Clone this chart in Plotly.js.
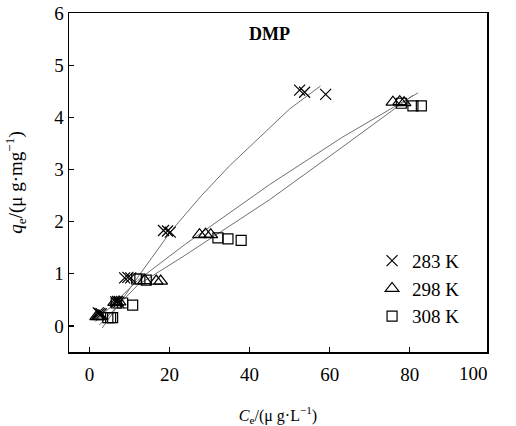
<!DOCTYPE html>
<html>
<head>
<meta charset="utf-8">
<script src="https://cdn.plot.ly/plotly-3.0.1.min.js"></script>
<style>html,body{margin:0;padding:0;background:#fff;}#chart{width:516px;height:426px;}</style>
</head>
<body>
<div id="chart"></div>
<script>
// Measured points
const seriesNames = ["283 K", "298 K", "308 K"];
const x283 = [52.5, 53.75, 59.0, 18.5, 19.5, 20.2, 8.8, 9.6, 10.3, 6.6, 7.0, 7.3, 2.2, 2.6, 3.0];
const y283 = [4.52, 4.48, 4.44, 1.83, 1.82, 1.80, 0.92, 0.93, 0.92, 0.46, 0.47, 0.45, 0.25, 0.24, 0.23];
const x298 = [75.8, 77.5, 78.6, 27.5, 29.0, 30.3, 13.8, 16.7, 17.8, 6.3, 6.8, 7.4, 1.8, 2.3, 2.6];
const y298 = [4.29, 4.30, 4.28, 1.75, 1.76, 1.75, 0.87, 0.86, 0.86, 0.45, 0.45, 0.46, 0.18, 0.19, 0.18];
const x308 = [77.9, 80.8, 82.9, 32.1, 34.6, 37.9, 11.8, 12.6, 14.2, 6.7, 8.3, 10.8, 4.6, 5.3, 5.8];
const y308 = [4.27, 4.22, 4.22, 1.69, 1.67, 1.64, 0.90, 0.90, 0.88, 0.44, 0.44, 0.40, 0.16, 0.16, 0.16];
// Fitted curves
const fx283 = [3.2, 12.5, 20.4, 28.0, 35.0, 43.3, 50.0, 57.7];
const fy283 = [-0.04, 0.98, 1.82, 2.50, 3.07, 3.68, 4.16, 4.60];
const fx298 = [1.5, 12.0, 24.0, 35.0, 45.0, 63.0, 82.1];
const fy298 = [0.08, 0.87, 1.57, 2.17, 2.71, 3.61, 4.47];
const fx308 = [2.5, 12.0, 24.0, 35.0, 45.0, 63.0, 80.8];
const fy308 = [0.02, 0.78, 1.36, 1.91, 2.42, 3.42, 4.42];
const xTicks = [0, 20, 40, 60, 80];
const xLastTick = 100;
const yTicks = [0, 1, 2, 3, 4, 5, 6];
const xRange = [-5.1, 99.3];

const FONT = "Liberation Serif, Times New Roman, serif";
const lineStyle = {color: "#707070", width: 1};
const traces = [
  {x: fx283, y: fy283, mode: "lines", line: lineStyle, showlegend: false, hoverinfo: "skip"},
  {x: fx298, y: fy298, mode: "lines", line: lineStyle, showlegend: false, hoverinfo: "skip"},
  {x: fx308, y: fy308, mode: "lines", line: lineStyle, showlegend: false, hoverinfo: "skip"},
  {x: x283, y: y283, name: seriesNames[0], mode: "markers",
   marker: {symbol: "x-thin-open", size: 11, color: "#000", line: {color: "#000", width: 1.2}}},
  {x: x298, y: y298, name: seriesNames[1], mode: "markers",
   marker: {symbol: "triangle-up-open", size: 12, color: "#000", line: {color: "#000", width: 1.2}}},
  {x: x308, y: y308, name: seriesNames[2], mode: "markers",
   marker: {symbol: "square-open", size: 10, color: "#000", line: {color: "#000", width: 1.2}}}
];

const axisCommon = {
  showline: true, mirror: true, linecolor: "#000", linewidth: 1.5,
  ticks: "inside", ticklen: 5, tickcolor: "#000", tickwidth: 1.2,
  showgrid: false, zeroline: false,
  tickfont: {family: FONT, size: 19, color: "#000"}
};

const layout = {
  width: 516, height: 426,
  margin: {l: 69, r: 29, t: 13, b: 74},
  paper_bgcolor: "#fff", plot_bgcolor: "#fff",
  font: {family: FONT, color: "#000"},
  xaxis: Object.assign({}, axisCommon, {
    range: xRange, tickvals: xTicks, ticktext: xTicks.map(String), ticklabelstandoff: 5,
    title: {text: "<i>C</i><sub>e</sub>/(μ g·L<sup>−1</sup>)", font: {family: FONT, size: 16, color: "#000"}, standoff: 26}
  }),
  yaxis: Object.assign({}, axisCommon, {
    range: [-0.5, 6], tickvals: yTicks, ticktext: yTicks.map(String),
    title: {text: "<i>q</i><sub>e</sub>/(μ g·mg<sup>−1</sup>)", font: {family: FONT, size: 19, color: "#000"}, standoff: 26}
  }),
  legend: {
    x: 0.725, y: 0.325, xanchor: "left", yanchor: "top",
    bgcolor: "rgba(0,0,0,0)", borderwidth: 0,
    font: {family: FONT, size: 19, color: "#000"},
    tracegroupgap: 0
  },
  annotations: [
    {x: 45, y: 5.6, xref: "x", yref: "y", text: "<b>DMP</b>", showarrow: false,
     font: {family: FONT, size: 18, color: "#000"}},
    {x: (xLastTick - xRange[0]) / (xRange[1] - xRange[0]), y: 0, xref: "paper", yref: "paper",
     yanchor: "top", yshift: -9, text: String(xLastTick), showarrow: false,
     font: {family: FONT, size: 19, color: "#000"}}
  ],
  showlegend: true
};

Plotly.newPlot("chart", traces, layout, {displayModeBar: false, staticPlot: true});
</script>
</body>
</html>
